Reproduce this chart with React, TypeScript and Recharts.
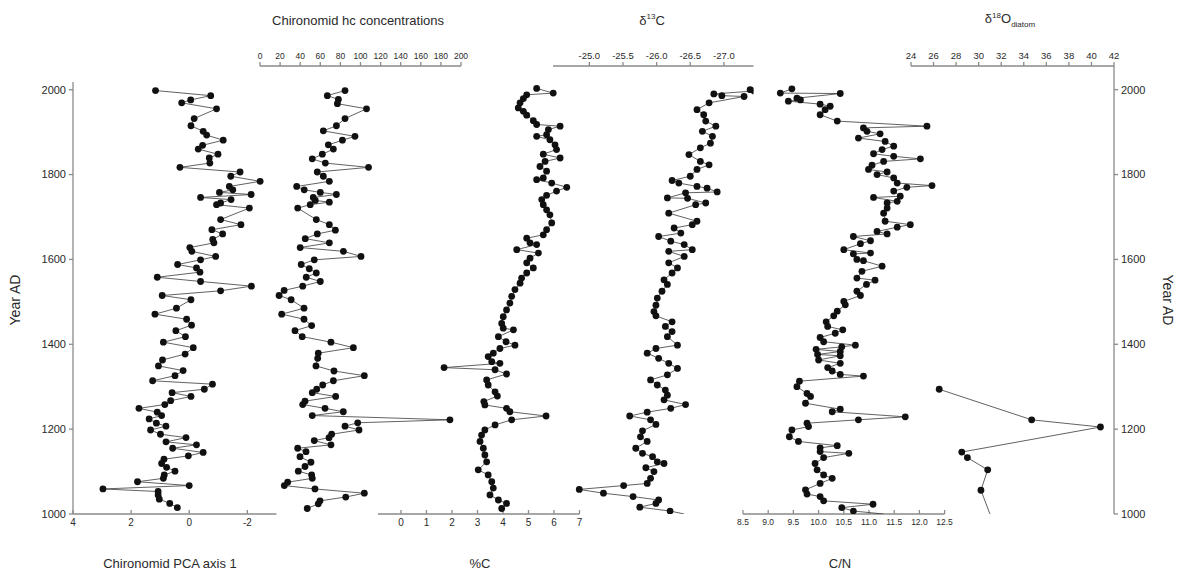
import { ScatterChart, Scatter, XAxis, YAxis } from 'recharts'

// [year AD, value], top of the core first
const PCA_AXIS1: [number, number][] = [
  [1998, 1.16], [1986, -0.74], [1976, -0.05], [1969, 0.26], [1955, -0.94], [1932, -0.17], [1915, -0.06],
  [1902, -0.48], [1893, -0.6], [1881, -1.17], [1869, -0.46], [1860, -0.31], [1848, -0.99], [1839, -0.69],
  [1827, -0.71], [1817, 0.32], [1806, -1.75], [1796, -1.43], [1784, -2.44], [1772, -1.38], [1764, -1.5],
  [1758, -1.04], [1753, -2.13], [1746, -0.39], [1741, -1.44], [1733, -1.08], [1729, -0.94], [1721, -2.07],
  [1694, -1.08], [1682, -1.78], [1670, -0.78], [1660, -1.15], [1647, -0.81], [1639, -0.85], [1628, -0.02],
  [1619, -0.09], [1607, -0.91], [1599, -0.39], [1588, 0.4], [1580, -0.25], [1570, -0.37], [1558, 1.1],
  [1548, -0.39], [1537, -2.14], [1526, -1.08], [1515, 0.93], [1505, -0.06], [1485, 0.44], [1471, 1.18],
  [1459, 0.09], [1445, -0.08], [1432, 0.46], [1418, 0.13], [1405, 0.89], [1392, -0.14], [1377, 0.14],
  [1363, 0.92], [1349, 1.06], [1338, 0.21], [1326, 0.49], [1314, 1.26], [1306, -0.8], [1294, -0.52],
  [1286, 0.59], [1277, -0.06], [1267, 0.64], [1258, 0.84], [1249, 1.73], [1240, 1.1], [1232, 0.95],
  [1224, 1.38], [1214, 1.13], [1207, 0.8], [1198, 1.33], [1188, 0.99], [1180, 0.11], [1170, 0.8],
  [1163, -0.25], [1155, 0.57], [1145, -0.48], [1137, 0.03], [1129, 0.87], [1119, 0.95], [1110, 0.78],
  [1101, 0.49], [1092, 0.86], [1084, 0.89], [1076, 1.78], [1067, 0.0], [1059, 2.97], [1053, 1.07],
  [1045, 1.07], [1035, 1.03], [1025, 0.67], [1015, 0.41],
]

const HC_CONC: [number, number][] = [
  [1998, 84.6], [1986, 67], [1977, 78], [1967, 77], [1955, 106], [1932, 84.6], [1915, 76], [1903, 63],
  [1890, 94.5], [1881, 82], [1870, 68], [1860, 73], [1848, 62], [1837, 52], [1827, 65], [1817, 108],
  [1806, 57], [1796, 63], [1784, 69], [1772, 36.5], [1764, 44], [1758, 60], [1753, 76], [1746, 53],
  [1739, 55], [1735, 69], [1729, 50], [1721, 37.5], [1694, 56], [1682, 69], [1669, 75], [1660, 57],
  [1649, 45], [1639, 69], [1628, 40], [1619, 83], [1607, 100.5], [1599, 54], [1588, 41], [1578, 49],
  [1568, 56], [1558, 46], [1548, 60], [1537, 42.5], [1527, 24], [1515, 19], [1505, 31], [1485, 43.8],
  [1471, 21.6], [1459, 43.8], [1444, 51.4], [1432, 34.8], [1418, 42], [1405, 70.6], [1392, 92.9],
  [1379, 58], [1367, 57.4], [1349, 55.7], [1337, 73.6], [1326, 103.8], [1314, 73], [1304, 62.4],
  [1294, 56.4], [1286, 52], [1277, 75.3], [1266, 44.8], [1258, 42.5], [1249, 64.7], [1241, 82.9],
  [1232, 52], [1222, 189], [1215, 97.2], [1207, 84.6], [1198, 98.5], [1188, 71.3], [1180, 68.7],
  [1173, 54], [1163, 70.6], [1155, 37.5], [1147, 45.8], [1135, 39.8], [1122, 50.7], [1112, 44.8],
  [1101, 38.1], [1092, 51.4], [1084, 52], [1075, 27.5], [1067, 24.2], [1059, 54.7], [1049, 103.8],
  [1040, 85.3], [1031, 59.7], [1024, 58], [1013, 47],
]

const PCT_C: [number, number][] = [
  [2003, 5.32], [1992, 5.97], [1988, 4.93], [1979, 4.8], [1969, 4.67], [1957, 4.6], [1949, 4.8],
  [1940, 4.93], [1927, 5.19], [1918, 5.32], [1914, 6.24], [1906, 5.78], [1894, 5.71], [1890, 5.32],
  [1882, 5.84], [1870, 6.04], [1859, 6.1], [1848, 5.58], [1839, 6.24], [1831, 5.65], [1819, 5.45],
  [1808, 5.71], [1792, 5.58], [1788, 5.32], [1780, 5.91], [1770, 6.5], [1761, 6.1], [1751, 5.71],
  [1741, 5.52], [1729, 5.58], [1717, 5.71], [1705, 5.84], [1686, 5.91], [1670, 5.71], [1658, 5.58],
  [1650, 4.93], [1639, 5.06], [1635, 5.32], [1623, 4.54], [1615, 5.39], [1603, 5.06], [1592, 4.93],
  [1580, 5.19], [1568, 4.93], [1556, 4.73], [1544, 4.67], [1529, 4.47], [1513, 4.34], [1497, 4.27],
  [1481, 4.14], [1465, 4.01], [1449, 3.95], [1438, 4.01], [1434, 4.41], [1418, 3.82], [1406, 4.12],
  [1398, 4.47], [1390, 3.88], [1379, 3.62], [1371, 3.42], [1359, 3.56], [1355, 3.88], [1345, 1.69],
  [1340, 3.69], [1330, 4.14], [1316, 3.36], [1304, 3.42], [1288, 3.69], [1278, 3.78], [1265, 3.25],
  [1257, 3.29], [1249, 4.14], [1241, 4.27], [1231, 5.69], [1222, 4.34], [1210, 3.69], [1198, 3.29],
  [1186, 3.16], [1171, 3.1], [1155, 3.23], [1139, 3.29], [1123, 3.36], [1104, 3.03], [1092, 3.42],
  [1076, 3.56], [1061, 3.62], [1045, 3.49], [1033, 3.82], [1025, 4.14], [1013, 3.95],
]

const D13C: [number, number][] = [
  [2000, -27.39], [1997, -27.45], [1990, -26.85], [1986, -26.97], [1984, -27.3], [1969, -26.78],
  [1953, -26.6], [1941, -26.7], [1926, -26.73], [1914, -26.88], [1902, -26.68], [1890, -26.83],
  [1874, -26.8], [1863, -26.65], [1847, -26.48], [1831, -26.65], [1823, -26.78], [1812, -26.6],
  [1796, -26.5], [1786, -26.23], [1780, -26.33], [1772, -26.6], [1768, -26.75], [1759, -26.9],
  [1757, -26.43], [1745, -26.16], [1744, -26.46], [1733, -26.73], [1729, -26.58], [1709, -26.18],
  [1690, -26.6], [1682, -26.53], [1674, -26.26], [1662, -26.36], [1654, -26.03], [1643, -26.21],
  [1635, -26.41], [1623, -26.53], [1619, -26.18], [1607, -26.41], [1592, -26.18], [1580, -26.31],
  [1568, -26.23], [1552, -26.11], [1541, -26.16], [1525, -26.08], [1509, -26.01], [1492, -25.99],
  [1477, -25.96], [1467, -25.99], [1453, -26.23], [1442, -26.13], [1430, -26.23], [1418, -26.16],
  [1398, -26.31], [1390, -25.99], [1379, -25.86], [1367, -26.03], [1355, -26.18], [1343, -26.31],
  [1328, -26.16], [1316, -25.91], [1304, -26.01], [1292, -26.13], [1280, -26.16], [1269, -26.11],
  [1258, -26.43], [1249, -26.21], [1240, -25.86], [1231, -25.6], [1222, -25.91], [1211, -25.99],
  [1196, -25.79], [1182, -25.76], [1171, -25.86], [1155, -25.69], [1143, -25.79], [1135, -25.94],
  [1123, -26.01], [1119, -26.11], [1109, -25.84], [1100, -25.96], [1084, -25.91], [1072, -25.86],
  [1067, -25.51], [1058, -24.85], [1049, -25.21], [1041, -25.65], [1033, -26.03], [1025, -25.99],
  [1016, -25.75], [1007, -26.2], [1000, -26.41],
]

const C_N: [number, number][] = [
  [2002, 9.47], [1992, 9.24], [1991, 10.43], [1980, 9.57], [1976, 9.64], [1973, 9.4], [1966, 10.03],
  [1961, 10.23], [1953, 10.13], [1941, 10.03], [1926, 10.37], [1914, 12.15], [1910, 10.89], [1902, 10.96],
  [1896, 11.22], [1886, 10.79], [1878, 11.32], [1867, 11.49], [1859, 11.26], [1849, 11.09], [1843, 11.49],
  [1837, 12.02], [1831, 11.29], [1822, 11.06], [1812, 10.99], [1806, 11.36], [1800, 11.16], [1792, 11.49],
  [1780, 11.56], [1774, 12.25], [1770, 11.75], [1761, 11.49], [1749, 11.62], [1746, 11.09], [1737, 11.56],
  [1733, 11.36], [1721, 11.36], [1709, 11.29], [1690, 11.32], [1682, 11.82], [1676, 11.56], [1666, 11.16],
  [1660, 11.36], [1654, 10.69], [1644, 11.03], [1637, 10.83], [1623, 10.5], [1615, 11.03], [1613, 10.69],
  [1600, 10.76], [1597, 10.89], [1584, 11.26], [1572, 10.86], [1556, 10.76], [1551, 11.12], [1541, 10.95],
  [1525, 10.76], [1515, 10.83], [1501, 10.5], [1493, 10.53], [1478, 10.37], [1467, 10.3], [1453, 10.15],
  [1442, 10.18], [1434, 10.48], [1426, 10.33], [1416, 10.03], [1406, 10.1], [1398, 10.73], [1394, 10.46],
  [1388, 9.95], [1383, 10.43], [1376, 9.98], [1373, 10.43], [1363, 10.0], [1355, 10.43], [1345, 10.18],
  [1337, 10.27], [1329, 10.43], [1325, 10.89], [1313, 9.62], [1300, 9.57], [1284, 9.77], [1277, 9.84],
  [1261, 9.74], [1247, 10.43], [1241, 10.27], [1229, 11.72], [1222, 10.79], [1214, 9.77], [1206, 9.8],
  [1198, 9.47], [1182, 9.42], [1171, 9.6], [1161, 10.37], [1156, 10.03], [1147, 10.03], [1143, 10.6],
  [1133, 10.1], [1119, 9.93], [1104, 9.97], [1092, 10.1], [1084, 10.27], [1072, 10.03], [1057, 9.74],
  [1047, 9.77], [1041, 10.03], [1031, 10.1], [1023, 11.08], [1015, 10.46], [1007, 10.69], [1000, 11.29],
]

const D18O_DIATOM: [number, number][] = [
  [1294, 26.5], [1222, 34.7], [1205, 40.8], [1146, 28.5], [1133, 29.0], [1104, 30.8], [1056, 30.2], [1000, 31.0],
]

const YEAR_TICKS = [1000, 1200, 1400, 1600, 1800, 2000]
const PCA_TICKS = [4, 2, 0, -2]
const HC_TICKS = [0, 20, 40, 60, 80, 100, 120, 140, 160, 180, 200]
const PCT_C_TICKS = [0, 1, 2, 3, 4, 5, 6, 7]
const D13C_TICKS = [-25, -25.5, -26, -26.5, -27]
const CN_TICKS = [8.5, 9, 9.5, 10, 10.5, 11, 11.5, 12, 12.5]
const D18O_TICKS = [24, 26, 28, 30, 32, 34, 36, 38, 40, 42]

const FONT = '"Liberation Sans", Arial, sans-serif'
const INK = '#2a2a2a'
const AXIS = '#8a8a8a'
const BOTTOM = 514
const PX_PER_YEAR = (514 - 89.7) / 1000
const PAD = 60
const XH = 30
const YW = 50

type PanelProps = {
  data: [number, number][]
  x0: number
  x1: number
  top: number
  domain: [number, number]
  reversed?: boolean
  ticks: number[]
  orient: 'top' | 'bottom'
  fmt?: (v: number) => string
  fontSize: number
  yAxis?: 'left' | 'right'
  tail?: boolean
}

function Panel({ data, x0, x1, top, domain, reversed, ticks, orient, fmt, fontSize, yAxis, tail }: PanelProps) {
  const yMax = 1000 + (BOTTOM - top) / PX_PER_YEAR
  const rows = data.map(([year, v], i) => ({ year, v, hide: !!tail && i === data.length - 1 }))
  const tick = { fill: INK, fontSize, fontFamily: FONT }
  const dot = (p: any) =>
    p.payload.hide ? <g /> : <circle cx={p.cx} cy={p.cy} r={3.4} fill="#111" />
  return (
    <div style={{ position: 'absolute', left: x0 - PAD, top: 0 }}>
      <ScatterChart
        width={x1 - x0 + 2 * PAD}
        height={576}
        margin={{
          top: top - (orient === 'top' ? XH : 0),
          bottom: 576 - BOTTOM - (orient === 'bottom' ? XH : 0),
          left: PAD - (yAxis === 'left' ? YW : 0),
          right: PAD - (yAxis === 'right' ? YW : 0),
        }}
      >
        <XAxis
          type="number"
          dataKey="v"
          domain={domain}
          allowDataOverflow
          reversed={reversed}
          orientation={orient}
          height={XH}
          ticks={ticks}
          interval={0}
          tickFormatter={fmt}
          tick={tick}
          stroke={AXIS}
          strokeWidth={1.3}
          tickSize={orient === 'bottom' ? -4 : 4}
          tickMargin={orient === 'bottom' ? 9 : 3}
        />
        <YAxis
          type="number"
          dataKey="year"
          domain={[1000, yMax]}
          allowDataOverflow
          hide={!yAxis}
          orientation={yAxis ?? 'left'}
          width={YW}
          ticks={YEAR_TICKS}
          interval={0}
          tick={{ fill: INK, fontSize: 11, fontFamily: FONT }}
          stroke={AXIS}
          strokeWidth={1.3}
          tickSize={4}
          tickMargin={3}
        />
        <Scatter
          data={rows}
          line={{ stroke: '#3a3a3a', strokeWidth: 0.8 }}
          shape={dot}
          isAnimationActive={false}
        />
      </ScatterChart>
    </div>
  )
}

const label = (x: number, y: number, size = 13, rotate = 0): React.CSSProperties => ({
  position: 'absolute',
  left: x,
  top: y,
  transform: `translate(-50%, -50%) rotate(${rotate}deg)`,
  whiteSpace: 'nowrap',
  fontFamily: FONT,
  fontSize: size,
  color: INK,
})

export default function App() {
  return (
    <div style={{ position: 'fixed', left: 0, top: 0, width: 1184, height: 576, background: '#fff', overflow: 'hidden' }}>
      <Panel data={PCA_AXIS1} x0={73.3} x1={276.7} top={82} domain={[-3, 4]} reversed ticks={PCA_TICKS}
        orient="bottom" fontSize={10} yAxis="left" />
      <Panel data={HC_CONC} x0={260} x1={461} top={66} domain={[0, 200]} ticks={HC_TICKS}
        orient="top" fontSize={8.5} />
      <Panel data={PCT_C} x0={378} x1={579.5} top={66} domain={[-0.9, 7]} ticks={PCT_C_TICKS}
        orient="bottom" fontSize={10} />
      <Panel data={D13C} x0={552.5} x1={753} top={66} domain={[-27.44, -24.46]} reversed ticks={D13C_TICKS}
        orient="top" fontSize={9.5} fmt={(v) => v.toFixed(1)} tail />
      <Panel data={C_N} x0={742.7} x1={944.3} top={66} domain={[8.5, 12.5]} ticks={CN_TICKS}
        orient="bottom" fontSize={8.5} fmt={(v) => v.toFixed(1)} tail />
      <Panel data={D18O_DIATOM} x0={911} x1={1114} top={66} domain={[24, 42]} ticks={D18O_TICKS}
        orient="top" fontSize={9.5} yAxis="right" tail />

      <div style={label(15, 300, 14, -90)}>Year AD</div>
      <div style={label(1168, 300, 14, 90)}>Year AD</div>
      <div style={label(358, 20)}>Chironomid hc concentrations</div>
      <div style={label(652, 20)}>
        δ<sup style={{ fontSize: 8 }}>13</sup>C
      </div>
      <div style={label(1010, 20)}>
        δ<sup style={{ fontSize: 8 }}>18</sup>O<sub style={{ fontSize: 8 }}>diatom</sub>
      </div>
      <div style={label(170, 563)}>Chironomid PCA axis 1</div>
      <div style={label(480, 563)}>%C</div>
      <div style={label(840, 563)}>C/N</div>
    </div>
  )
}
